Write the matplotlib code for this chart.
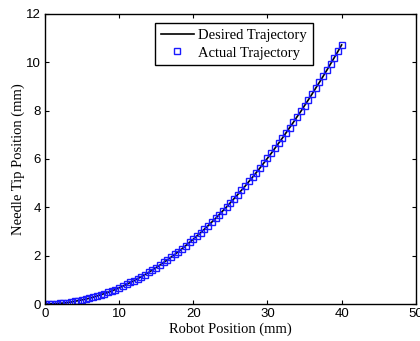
import numpy as np
import matplotlib
matplotlib.use("Agg")
import matplotlib.pyplot as plt

# robot position samples (mm)
robot_pos = np.arange(0, 40.5, 0.5)

# needle tip position (mm), desired and measured
desired_tip = [0.00, 0.00, 0.01, 0.02, 0.03, 0.04, 0.06, 0.08, 0.11, 0.14,
               0.17, 0.20, 0.24, 0.28, 0.33, 0.38, 0.43, 0.48, 0.54, 0.60,
               0.67, 0.74, 0.81, 0.89, 0.96, 1.05, 1.13, 1.22, 1.31, 1.41,
               1.51, 1.61, 1.72, 1.82, 1.94, 2.05, 2.17, 2.29, 2.42, 2.55,
               2.68, 2.82, 2.95, 3.10, 3.24, 3.39, 3.54, 3.70, 3.86, 4.02,
               4.19, 4.36, 4.53, 4.71, 4.88, 5.07, 5.25, 5.44, 5.63, 5.83,
               6.03, 6.23, 6.44, 6.65, 6.86, 7.08, 7.30, 7.52, 7.75, 7.97,
               8.21, 8.44, 8.68, 8.93, 9.17, 9.42, 9.67, 9.93, 10.19, 10.45,
               10.72]
actual_tip = list(desired_tip)

serif = ["Liberation Serif", "DejaVu Serif"]
sans = ["Liberation Sans", "DejaVu Sans"]

fig = plt.figure(figsize=(4.2, 3.41), dpi=100)
ax = fig.add_axes([0.107, 0.1085, 0.883, 0.8505])

ax.plot(robot_pos, desired_tip, color="black", lw=1.2, label="Desired Trajectory")
ax.plot(robot_pos, actual_tip, ls="none", marker="s", ms=4.2, mfc="none",
        mec="#1a1aff", mew=1.0, label="Actual Trajectory")

ax.set_xlim(0, 50)
ax.set_ylim(0, 12)
ax.set_xticks([0, 10, 20, 30, 40, 50])
ax.set_yticks([0, 2, 4, 6, 8, 10, 12])
ax.tick_params(direction="in", top=True, right=True, length=3, width=0.8,
               labelsize=9.5, pad=3)
for lab in ax.get_xticklabels() + ax.get_yticklabels():
    lab.set_family(sans)
for sp in ax.spines.values():
    sp.set_linewidth(1.0)

ax.set_xlabel("Robot Position (mm)", family=serif, fontsize=10.5, labelpad=2)
ax.set_ylabel("Needle Tip Position (mm)", family=serif, fontsize=10.5, labelpad=1)

leg = ax.legend(loc="upper left", bbox_to_anchor=(0.296, 0.969),
                prop={"family": serif, "size": 10.5}, fancybox=False,
                edgecolor="black", framealpha=1, borderpad=0.4,
                handlelength=2.3, handletextpad=0.3, labelspacing=0.3,
                borderaxespad=0)
leg.get_frame().set_linewidth(1.0)

fig.savefig("out.png", dpi=100)
